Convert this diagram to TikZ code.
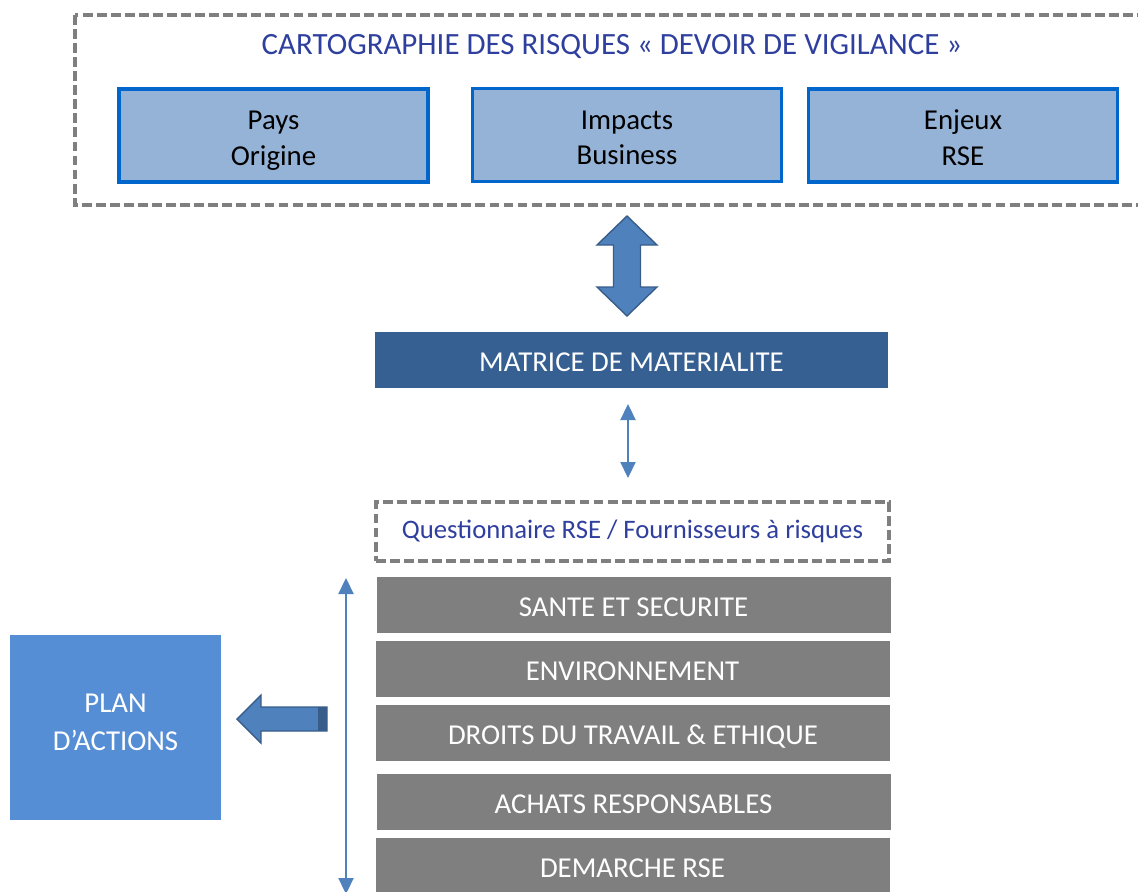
\documentclass[tikz,border=0pt]{standalone}
\usepackage{fontspec}
\setmainfont{Carlito}
\usetikzlibrary{arrows.meta}

\definecolor{cartoblue}{HTML}{2F3F9E}
\definecolor{riskfill}{HTML}{95B3D7}
\definecolor{riskline}{HTML}{0066CC}
\definecolor{arrowfill}{HTML}{4F81BD}
\definecolor{arrowline}{HTML}{385D8A}
\definecolor{matblue}{HTML}{366092}
\definecolor{themegray}{HTML}{7F7F7F}
\definecolor{planblue}{HTML}{558ED5}
\definecolor{dashgray}{HTML}{7F7F7F}

\begin{document}
\begin{tikzpicture}[
    txt/.style={font=\fontsize{20.5}{25}\selectfont},
    dashframe/.style={rectangle, draw=dashgray, line width=2.2pt, dash pattern=on 7pt off 3pt},
    riskbox/.style={rectangle, draw=riskline, fill=riskfill, line width=2.2pt, minimum width=7.725cm, minimum height=2.325cm, align=center, text height=49.5pt, text depth=7.5pt, txt},
    matbar/.style={rectangle, fill=matblue, text=white, minimum width=12.825cm, minimum height=1.4cm, text height=16pt, text depth=0pt, txt},
    themebox/.style={rectangle, fill=themegray, text=white, minimum width=12.85cm, minimum height=1.4cm, text height=16pt, text depth=0pt, txt},
    planbox/.style={rectangle, fill=planblue, text=white, minimum width=5.275cm, minimum height=4.625cm, align=center, txt},
    blockarrow/.style={fill=arrowfill, draw=arrowline, line width=1pt, line join=miter},
    linkarrow/.style={draw=arrowfill, line width=1pt, {Triangle[length=0.4cm, width=0.38cm]}-{Triangle[length=0.4cm, width=0.38cm]}}
]
\useasboundingbox (0,0) rectangle (28.45,-22.275);

% Cartographie
\draw[dashframe] (1.875,-0.375) rectangle (28.8,-5.125);
\node[font=\fontsize{22}{26}\selectfont, text=cartoblue] (titre) at (15.3,-1.175) {CARTOGRAPHIE DES RISQUES « DEVOIR DE VIGILANCE »};
\node[riskbox] (pays) at (6.8375,-3.3875) {Pays\strut\\Origine\strut};
\node[riskbox] (impacts) at (15.675,-3.375) {Impacts\strut\\Business\strut};
\node[riskbox] (enjeux) at (24.075,-3.3875) {Enjeux\strut\\RSE\strut};

% Double arrow
\draw[blockarrow] (15.675,-5.4) -- (16.425,-6.125) -- (16.0125,-6.125) -- (16.0125,-7.175)
    -- (16.425,-7.175) -- (15.675,-7.9) -- (14.925,-7.175) -- (15.3375,-7.175)
    -- (15.3375,-6.125) -- (14.925,-6.125) -- cycle;

% Matrice
\node[matbar] (matrice) at (15.7875,-9.0) {MATRICE DE MATERIALITE};
\coordinate (mhaut) at (15.7,-10.1);
\coordinate (mbas) at (15.7,-11.95);
\draw[linkarrow] (mhaut) -- (mbas);

% Questionnaire
\node[dashframe, minimum width=12.825cm, minimum height=1.475cm, text=cartoblue, font=\fontsize{19}{23}\selectfont] (quest) at (15.8125,-13.2875) {Questionnaire RSE / Fournisseurs à risques};

% Themes
\node[themebox] (sante) at (15.8375,-15.125) {SANTE ET SECURITE};
\node[themebox] (envir) at (15.8125,-16.725) {ENVIRONNEMENT};
\node[themebox] (droits) at (15.825,-18.325) {DROITS DU TRAVAIL \& ETHIQUE};
\node[themebox] (achats) at (15.8375,-20.05) {ACHATS RESPONSABLES};
\node[themebox] (demarche) at (15.8125,-21.65) {DEMARCHE RSE};

\coordinate (vhaut) at (8.65,-14.45);
\coordinate (vbas) at (8.65,-22.35);
\draw[linkarrow] (vhaut) -- (vbas);

% Plan d'actions
\node[planbox, text depth=12pt] (plan) at (2.8875,-18.1875) {PLAN\strut\\[0.075cm]D’ACTIONS\strut};
\draw[blockarrow] (5.925,-17.975) -- (6.525,-17.375) -- (6.525,-17.675) -- (8.175,-17.675)
    -- (8.175,-18.275) -- (6.525,-18.275) -- (6.525,-18.575) -- cycle;
\fill[arrowline] (7.95,-17.675) rectangle (8.175,-18.275);

\end{tikzpicture}
\end{document}
